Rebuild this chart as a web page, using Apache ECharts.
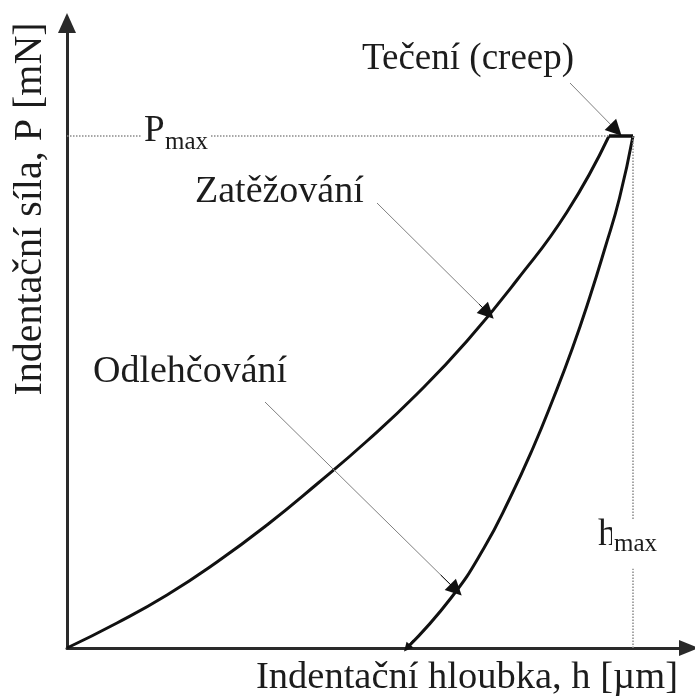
<!DOCTYPE html>
<html>
<head>
<meta charset="utf-8">
<style>
  html, body { margin: 0; padding: 0; background: #fff; }
  #chart { width: 695px; height: 699px; }
</style>
<script src="https://cdn.jsdelivr.net/npm/echarts@6/dist/echarts.min.js"></script>
</head>
<body>
<div id="chart"></div>
<script>
// Load–depth curve of an indentation test (arbitrary units, no tick values)
const loadingCurve = [
  [0, 0], [50, 25], [100, 53], [150, 86], [200, 123], [250, 164],
  [300, 207], [350, 254], [400, 307], [450, 368], [500, 436], [542, 512]
];
const creepSegment = [[542, 512], [566, 512]];
const unloadingCurve = [
  [566, 512], [552.5, 450], [538, 400], [522.5, 350], [505.5, 300], [486.5, 250],
  [466, 200], [443, 150], [417, 100], [384, 50], [340, 0]
];
const pMax = 512;
const hMax = 566;
const hAtPmax = 542;

// Annotation texts with their anchors (left edge, vertical middle)
const noteTexts = ['Tečení (creep)', 'Zatěžování', 'Odlehčování'];
const noteAnchors = [[295, 589], [128, 456], [26, 276]];
const noteSizes = [37, 38, 38];
// Pointer lines: start point, arrow tip
const pointers = [
  [[503, 565], [549, 518]],
  [[310, 445], [421, 335]],
  [[198, 246], [389, 58]]
];
const axisNameX = 'Indentační hloubka, h [µm]';
const axisNameY = 'Indentační síla, P [mN]';

const serif = "'Liberation Serif', 'DejaVu Serif', serif";
const textColor = '#1c1c1c';

const chart = echarts.init(document.getElementById('chart'));

const noteMarks = noteTexts.map((t, i) => ({
  coord: noteAnchors[i],
  symbol: 'circle', symbolSize: 0,
  label: {
    show: true, formatter: t, position: [0, 0],
    align: 'left', verticalAlign: 'middle',
    fontFamily: serif, fontSize: noteSizes[i], color: textColor
  }
}));

// P_max and h_max labels, split in main letter + subscript
function subLabel(coordMain, main, coordSub, subPad) {
  return [
    {
      coord: coordMain, symbol: 'circle', symbolSize: 0,
      label: {
        show: true, formatter: main, position: [0, 0], align: 'left', verticalAlign: 'middle',
        fontFamily: serif, fontSize: 37, color: textColor,
        backgroundColor: '#fff', padding: [0, 2]
      }
    },
    {
      coord: coordSub, symbol: 'circle', symbolSize: 0,
      label: {
        show: true, formatter: 'max', position: [0, 0], align: 'left', verticalAlign: 'middle',
        fontFamily: serif, fontSize: 25, color: textColor,
        backgroundColor: '#fff', padding: subPad
      }
    }
  ];
}

// Gray pointer shaft plus a short dark piece carrying the arrowhead
function pointerLines(list) {
  const out = [];
  list.forEach(([a, b]) => {
    out.push([{ coord: a, symbol: 'none' }, { coord: b, symbol: 'none' }]);
    const k = 0.08;
    const near = [b[0] - (b[0] - a[0]) * k, b[1] - (b[1] - a[1]) * k];
    out.push([
      { coord: near, symbol: 'none', lineStyle: { color: '#111', width: 1 } },
      { coord: b, symbol: 'triangle', symbolSize: 16 }
    ]);
  });
  return out;
}

// small arrowhead at the end of the unloading branch
const uEnd = unloadingCurve[unloadingCurve.length - 1];
const uPrev = unloadingCurve[unloadingCurve.length - 2];
const uNear = [uEnd[0] + (uPrev[0] - uEnd[0]) * 0.15, uEnd[1] + (uPrev[1] - uEnd[1]) * 0.15];

const option = {
  backgroundColor: '#fff',
  animation: false,
  grid: { left: 67, right: 6, top: 23, bottom: 51 },
  xAxis: {
    type: 'value', min: 0, max: 622,
    axisLine: { show: true, onZero: false, symbol: ['none', 'triangle'], symbolSize: [16, 20],
      lineStyle: { color: '#2a2a2a', width: 3 } },
    axisTick: { show: false }, axisLabel: { show: false }, splitLine: { show: false }
  },
  yAxis: {
    type: 'value', min: 0, max: 625,
    axisLine: { show: true, onZero: false, symbol: ['none', 'triangle'], symbolSize: [18, 20],
      lineStyle: { color: '#2a2a2a', width: 3 } },
    axisTick: { show: false }, axisLabel: { show: false }, splitLine: { show: false }
  },
  graphic: [
    { type: 'text', x: 467, y: 678, style: { text: axisNameX, font: '38.5px ' + serif,
      fill: textColor, align: 'center', verticalAlign: 'middle' } },
    { type: 'text', x: 30, y: 209, rotation: Math.PI / 2, style: { text: axisNameY, font: '40px ' + serif,
      fill: textColor, align: 'center', verticalAlign: 'middle' } }
  ],
  series: [
    {
      name: 'guides', type: 'line', data: [], z: 1,
      markLine: {
        silent: true, symbol: 'none', label: { show: false },
        lineStyle: { type: 'dotted', color: '#8a8a8a', width: 1.5 },
        data: [
          [{ coord: [0, pMax] }, { coord: [hAtPmax, pMax] }],
          [{ coord: [hMax, 0] }, { coord: [hMax, pMax] }]
        ]
      }
    },
    {
      name: 'loading', type: 'line', data: loadingCurve, smooth: 0.5,
      showSymbol: false, lineStyle: { color: '#111', width: 3 }, z: 3
    },
    {
      name: 'creep', type: 'line', data: creepSegment, showSymbol: false,
      lineStyle: { color: '#111', width: 3.5 }, z: 3
    },
    {
      name: 'unloading', type: 'line', data: unloadingCurve, smooth: 0.5,
      showSymbol: false, lineStyle: { color: '#111', width: 3 }, z: 3,
      markLine: {
        silent: true, symbol: ['none', 'triangle'], symbolSize: 9,
        label: { show: false },
        lineStyle: { type: 'solid', color: '#111', width: 2 },
        data: [[{ coord: uNear }, { coord: uEnd }]]
      }
    },
    {
      name: 'notes', type: 'line', data: [], z: 5,
      markLine: {
        silent: true, symbol: 'none',
        label: { show: false },
        lineStyle: { type: 'solid', color: '#808080', width: 1 },
        data: pointerLines(pointers)
      },
      markPoint: {
        silent: true,
        data: noteMarks
          .concat(subLabel([75, 517], 'P', [96, 506], [0, 2]))
          .concat(subLabel([529, 113], 'h', [545, 104], [18, 2, 6, 2]))
      }
    }
  ]
};

chart.setOption(option);
</script>
</body>
</html>
